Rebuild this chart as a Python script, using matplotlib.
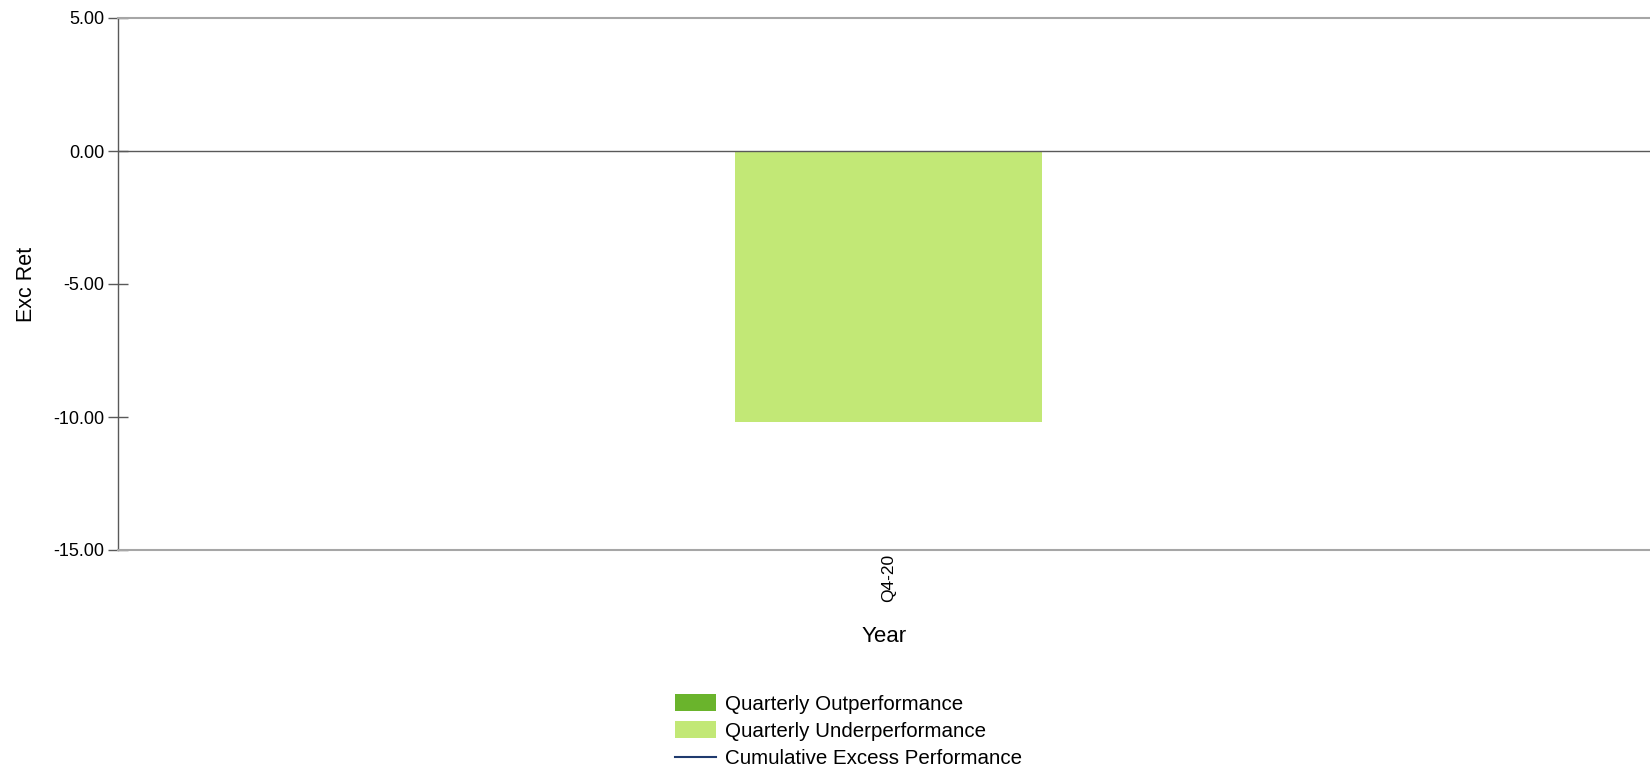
import matplotlib
matplotlib.use("Agg")
import matplotlib.pyplot as plt
from matplotlib.patches import Patch
from matplotlib.lines import Line2D

plt.rcParams['font.family'] = ['Liberation Sans', 'DejaVu Sans']

categories = ["Q4-20"]
excess_returns = [-10.2]
y_ticks = [5.0, 0.0, -5.0, -10.0, -15.0]
legend_labels = ["Quarterly Outperformance", "Quarterly Underperformance", "Cumulative Excess Performance"]

out_color = "#6AB42C"
under_color = "#C2E876"
line_color = "#1F3A6E"

fig = plt.figure(figsize=(16.5, 7.68), dpi=100)
ax = fig.add_axes([118/1650, 1 - 550/768, 1 - 118/1650, (550 - 18)/768])

colors = [out_color if v >= 0 else under_color for v in excess_returns]
x = list(range(len(categories)))
ax.bar(x, excess_returns, width=0.2, color=colors, zorder=2)

ax.set_xlim(-0.503, len(categories) - 0.503)
ax.set_ylim(-15, 5)
ax.set_yticks(y_ticks)
ax.set_yticklabels([f"{t:.2f}" for t in y_ticks], fontsize=13)
ax.set_xticks(x)
ax.set_xticklabels(categories, rotation=90, fontsize=12.5)
ax.tick_params(axis='x', length=0, pad=3)
ax.tick_params(axis='y', direction='inout', length=13.7, width=1, color="#595959", pad=3)

ax.axhline(0, color="#595959", lw=1, zorder=3)
for s in ['top', 'bottom']:
    ax.spines[s].set_color("#A6A6A6")
    ax.spines[s].set_linewidth(1.5)
ax.spines['right'].set_visible(False)
ax.spines['left'].set_color("#595959")
ax.spines['left'].set_linewidth(1)

ax.set_xlabel("Year", fontsize=16, labelpad=17)
ax.set_ylabel("Exc Ret", fontsize=15.5, labelpad=12)

handles = [Patch(facecolor=out_color), Patch(facecolor=under_color),
           Line2D([0], [0], color=line_color, lw=1.5)]
fig.legend(handles, legend_labels, loc='upper left',
           bbox_to_anchor=(675/1650, 1 - 694/768), frameon=False,
           fontsize=14.8, handlelength=2.0, handleheight=0.9, handletextpad=0.45,
           labelspacing=0.38, borderpad=0, borderaxespad=0)

fig.savefig("out.png", dpi=100)
